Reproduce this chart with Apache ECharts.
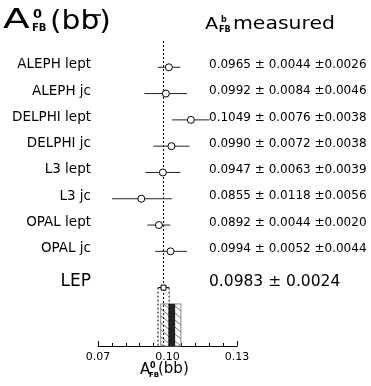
<!DOCTYPE html>
<html><head><meta charset="utf-8">
<script src="https://cdn.jsdelivr.net/npm/echarts@6.0.0/dist/echarts.min.js"></script>
<style>html,body{margin:0;padding:0;background:#fff}#c{width:371px;height:386px}</style>
</head><body><div id="c"></div>
<script>
// ---- data ----
const experiments = ['ALEPH lept','ALEPH jc','DELPHI lept','DELPHI jc','L3 lept','L3 jc','OPAL lept','OPAL jc'];
const measured = [0.0965,0.0992,0.1049,0.0990,0.0947,0.0855,0.0892,0.0994];
const statErr  = [0.0044,0.0084,0.0076,0.0072,0.0063,0.0118,0.0044,0.0052];
const sysErr   = [0.0026,0.0046,0.0038,0.0038,0.0039,0.0056,0.0020,0.0044];
// plotted (pole) values and error bar ends
const poleValue = [0.1006,0.0993,0.1101,0.1017,0.0980,0.0887,0.0963,0.1013];
const barLow    = [0.0958,0.0900,0.1020,0.0939,0.0905,0.0761,0.0913,0.0947];
const barHigh   = [0.1055,0.1084,0.1182,0.1095,0.1055,0.1019,0.1012,0.1084];
const lepValue = 0.0983;
const lepErr = 0.0024;
const smBand = [0.0971, 0.1058];
const smCore = [0.1004, 0.1033];
const tickLabels = ['0.07','0.10','0.13'];

const X_MIN = 0.07, X_MAX = 0.13;
const FONT = 'DejaVu Sans';
const ROW_TOP = -1, ROW_BOTTOM = 10.6;
const LEP_TEXT_ROW = 8.15, LEP_MARK_ROW = 8.38, BAND_TOP_ROW = 9;

function fmt(v){ return v.toFixed(4); }
function valueText(i){ return fmt(measured[i]) + ' \u00b1 ' + fmt(statErr[i]) + ' \u00b1' + fmt(sysErr[i]); }

const chart = echarts.init(document.getElementById('c'));

function hatchLines(x1,y1,x2,y2,k,sp,stroke,lw){
  const out=[];
  for(let c=y1-k*x2; c<=y2-k*x1; c+=sp){
    const xa=Math.max(x1,(y1-c)/k), xb=Math.min(x2,(y2-c)/k);
    if(xb>xa) out.push({type:'line',shape:{x1:xa,y1:k*xa+c,x2:xb,y2:k*xb+c},style:{stroke:stroke,lineWidth:lw}});
  }
  return out;
}

const option = {
  animation:false,
  grid:{left:98,right:134,top:41,bottom:40},
  xAxis:[
    {type:'value',min:X_MIN,max:X_MAX,show:false},
    {type:'value',min:0,max:10,interval:5,position:'bottom',
     axisLine:{show:true,lineStyle:{color:'#000',width:1}},
     axisTick:{show:true,inside:true,length:5,lineStyle:{color:'#000'}},
     minorTick:{show:true,splitNumber:5,length:3,lineStyle:{color:'#000'}},
     splitLine:{show:false},minorSplitLine:{show:false},
     axisLabel:{formatter:v=>tickLabels[Math.round(v/5)],fontSize:11,color:'#000',margin:6,fontFamily:FONT}}
  ],
  yAxis:{type:'value',min:ROW_TOP,max:ROW_BOTTOM,inverse:true,show:false},
  series:[
    { // LEP band and marker
      type:'custom',xAxisIndex:0,clip:false,z:1,
      data:[[lepValue,lepErr]],
      renderItem:function(params,api){
        const v=api.value(0), e=api.value(1);
        const b0=api.coord([smBand[0],BAND_TOP_ROW]), b1=api.coord([smBand[1],ROW_BOTTOM]);
        const c0=api.coord([smCore[0],BAND_TOP_ROW]), c1=api.coord([smCore[1],ROW_BOTTOM]);
        const m=api.coord([v,LEP_MARK_ROW]);
        const lo=api.coord([v-e,LEP_MARK_ROW]), hi=api.coord([v+e,LEP_MARK_ROW]);
        const bot=api.coord([v,ROW_BOTTOM])[1];
        const top=api.coord([v,ROW_TOP])[1];
        const t=api.coord([v,LEP_TEXT_ROW]);
        const xa=api.coord([X_MIN,0])[0], xb=api.coord([X_MAX,0])[0];
        const ch=[];
        ch.push({type:'rect',shape:{x:b0[0],y:b0[1],width:b1[0]-b0[0],height:b1[1]-b0[1]},style:{fill:'#fff',stroke:'#888',lineWidth:1}});
        hatchLines(b0[0],b0[1],b1[0],b1[1],0.8,7,'#555',0.8).forEach(l=>ch.push(l));
        ch.push({type:'rect',shape:{x:c0[0],y:c0[1],width:c1[0]-c0[0],height:c1[1]-c0[1]},style:{fill:'#222'}});
        hatchLines(c0[0],c0[1],c1[0],c1[1],-1,4,'#777',0.6).forEach(l=>ch.push(l));
        ch.push({type:'line',shape:{x1:m[0],y1:top,x2:m[0],y2:bot},style:{stroke:'#000',lineWidth:1,lineDash:[2,2]}});
        ch.push({type:'line',shape:{x1:lo[0],y1:lo[1],x2:lo[0],y2:bot},style:{stroke:'#000',lineWidth:1,lineDash:[2,2]}});
        ch.push({type:'line',shape:{x1:hi[0],y1:hi[1],x2:hi[0],y2:bot},style:{stroke:'#000',lineWidth:1,lineDash:[2,2]}});
        ch.push({type:'line',shape:{x1:lo[0],y1:lo[1],x2:hi[0],y2:hi[1]},style:{stroke:'#000',lineWidth:1}});
        ch.push({type:'rect',shape:{x:m[0]-2.5,y:m[1]-2.5,width:5,height:5},style:{fill:'#fff',stroke:'#000',lineWidth:1}});
        ch.push({type:'text',style:{x:xa-7,y:t[1],text:'LEP',font:'17px '+FONT,fill:'#000',align:'right',verticalAlign:'middle'}});
        ch.push({type:'text',style:{x:xb-28,y:t[1],text:fmt(v)+' \u00b1 '+fmt(e),font:'15.5px '+FONT,fill:'#000',align:'left',verticalAlign:'middle'}});
        return {type:'group',children:ch};
      }
    },
    { // error bars and labels
      type:'custom',xAxisIndex:0,clip:false,z:2,
      data:experiments.map((n,i)=>[poleValue[i],barLow[i],barHigh[i],i]),
      encode:{x:[0,1,2],y:3},
      renderItem:function(params,api){
        const row=api.value(3), i=params.dataIndex;
        const p0=api.coord([api.value(1),row]), p1=api.coord([api.value(2),row]);
        const xa=api.coord([X_MIN,row])[0], xb=api.coord([X_MAX,row])[0];
        return {type:'group',children:[
          {type:'line',shape:{x1:p0[0],y1:p0[1],x2:p1[0],y2:p1[1]},style:{stroke:'#222',lineWidth:1}},
          {type:'text',style:{x:xa-7,y:p0[1]-2.5,text:experiments[i],font:'13.5px '+FONT,fill:'#000',align:'right',verticalAlign:'middle'}},
          {type:'text',style:{x:xb-28,y:p0[1]-2.5,text:valueText(i),font:'12px '+FONT,fill:'#000',align:'left',verticalAlign:'middle'}}
        ]};
      }
    },
    {
      type:'scatter',xAxisIndex:0,z:3,
      data:poleValue.map((v,i)=>[v,i]),
      symbol:'circle',symbolSize:7,
      itemStyle:{color:'#fff',borderColor:'#000',borderWidth:1,opacity:1}
    }
  ],
  graphic:[
    {type:'text',left:3,top:8,scaleX:1.5,style:{text:'A',font:'26px '+FONT,fill:'#000'}},
    {type:'text',left:33,top:8,style:{text:'0',font:'bold 13px '+FONT,fill:'#000'}},
    {type:'text',left:32,top:23,style:{text:'FB',font:'bold 10px '+FONT,fill:'#000'}},
    {type:'text',left:50,top:8,scaleX:1.1,style:{text:'(bb)',font:'27px '+FONT,fill:'#000'}},
    {type:'line',shape:{x1:84,y1:15,x2:101,y2:15},style:{stroke:'#000',lineWidth:1.5}},
    {type:'text',left:205,top:17,scaleX:1.2,style:{text:'A',font:'16px '+FONT,fill:'#000'}},
    {type:'text',left:221,top:16,style:{text:'b',font:'bold 8px '+FONT,fill:'#000'}},
    {type:'text',left:219,top:26,style:{text:'FB',font:'bold 8px '+FONT,fill:'#000'}},
    {type:'text',left:233,top:16,scaleX:1.2,style:{text:'measured',font:'17px '+FONT,fill:'#000'}},
    {type:'text',left:140,top:363,style:{text:'A',font:'15px '+FONT,fill:'#000'}},
    {type:'text',left:150,top:362,style:{text:'0',font:'bold 8px '+FONT,fill:'#000'}},
    {type:'text',left:149,top:372,style:{text:'FB',font:'bold 7px '+FONT,fill:'#000'}},
    {type:'text',left:158,top:362,style:{text:'(bb)',font:'15px '+FONT,fill:'#000'}}
  ]
};
chart.setOption(option);
</script></body></html>
